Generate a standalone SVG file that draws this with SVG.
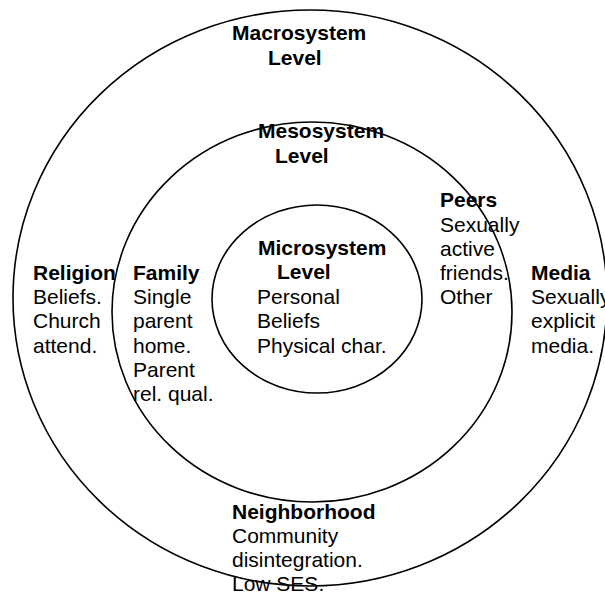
<svg xmlns="http://www.w3.org/2000/svg" width="605" height="597" viewBox="0 0 605 597">
<style>
.ring{fill:none;stroke:#000;stroke-width:1.6}
text{font-family:"Liberation Sans",Arial,sans-serif;font-size:21px;fill:#000}
.b{font-weight:bold}
</style>
<rect width="605" height="597" fill="#fff"/>
<g id="macrosystem">
<ellipse class="ring" cx="310" cy="298" rx="297" ry="288"/>
<text class="b" x="232" y="40">Macrosystem</text>
<text class="b" x="268" y="65">Level</text>
</g>
<g id="mesosystem">
<ellipse class="ring" cx="312" cy="312" rx="200" ry="190"/>
<text class="b" x="258" y="138">Mesosystem</text>
<text class="b" x="275" y="163">Level</text>
</g>
<g id="microsystem">
<ellipse class="ring" cx="317" cy="299" rx="105" ry="94"/>
<text class="b" x="258" y="255">Microsystem</text>
<text class="b" x="277" y="279">Level</text>
<text x="257" y="304">Personal</text>
<text x="257" y="328">Beliefs</text>
<text x="257" y="353">Physical char.</text>
</g>
<g id="religion">
<text class="b" x="33" y="280">Religion</text>
<text x="33" y="304">Beliefs.</text>
<text x="33" y="328">Church</text>
<text x="33" y="353">attend.</text>
</g>
<g id="family">
<text class="b" x="133" y="280">Family</text>
<text x="133" y="304">Single</text>
<text x="133" y="328">parent</text>
<text x="133" y="353">home.</text>
<text x="133" y="377">Parent</text>
<text x="133" y="401">rel. qual.</text>
</g>
<g id="peers">
<text class="b" x="440" y="207">Peers</text>
<text x="440" y="232">Sexually</text>
<text x="440" y="256">active</text>
<text x="440" y="280">friends.</text>
<text x="440" y="304">Other</text>
</g>
<g id="media">
<text class="b" x="531" y="280">Media</text>
<text x="531" y="304">Sexually</text>
<text x="531" y="328">explicit</text>
<text x="531" y="353">media.</text>
</g>
<g id="neighborhood">
<text class="b" x="232" y="519">Neighborhood</text>
<text x="232" y="543">Community</text>
<text x="232" y="567">disintegration.</text>
<text x="232" y="591">Low SES.</text>
</g>
<g id="connectors"></g>
</svg>
